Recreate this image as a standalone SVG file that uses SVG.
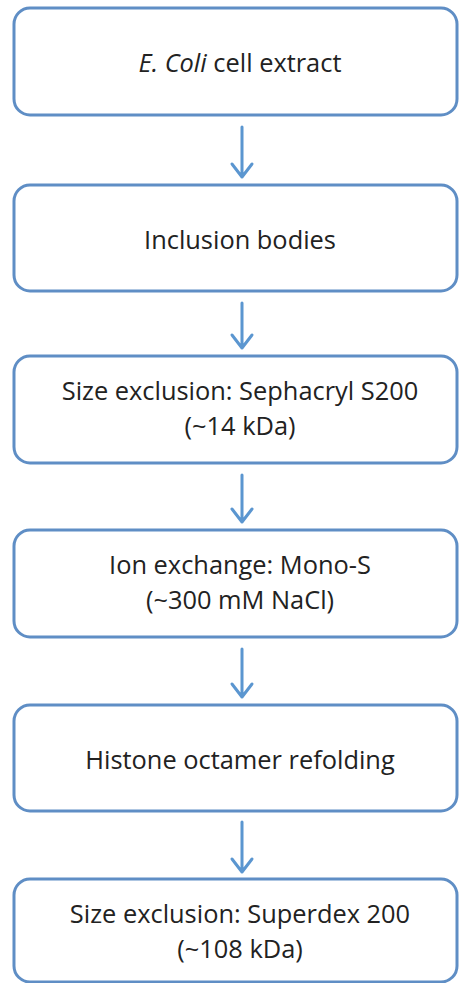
<svg xmlns="http://www.w3.org/2000/svg" width="459" height="983" viewBox="0 0 459 983">
  <style>
    .box { fill: #ffffff; stroke: #5f8ec5; stroke-width: 3; }
    .lbl { font-family: "Open Sans", "Liberation Sans", sans-serif; font-size: 25.4px; fill: #222222; text-anchor: middle; }
    .arrow { fill: none; stroke: #5b96d0; stroke-width: 3; stroke-linecap: round; stroke-linejoin: round; }
  </style>
  <rect width="459" height="983" fill="#ffffff"/>

  <g id="connectors">
    <path class="arrow" d="M242 127 V177 M232 164 L242 177 L252 164"/>
    <path class="arrow" d="M242 303 V348 M232 335 L242 348 L252 335"/>
    <path class="arrow" d="M242 475 V522 M232 509 L242 522 L252 509"/>
    <path class="arrow" d="M242 649 V697 M232 684 L242 697 L252 684"/>
    <path class="arrow" d="M242 822 V872 M232 859 L242 872 L252 859"/>
  </g>

  <g id="cell-extract">
    <rect class="box" x="14" y="8" width="443" height="107" rx="16"/>
    <text class="lbl" x="240" y="72"><tspan font-style="italic">E. Coli</tspan> cell extract</text>
  </g>

  <g id="inclusion-bodies">
    <rect class="box" x="14" y="185" width="443" height="106" rx="16"/>
    <text class="lbl" x="240" y="249">Inclusion bodies</text>
  </g>

  <g id="sephacryl">
    <rect class="box" x="14" y="356" width="443" height="107" rx="16"/>
    <text class="lbl" x="240" y="400">Size exclusion: Sephacryl S200</text>
    <text class="lbl" x="240" y="435">(~14 kDa)</text>
  </g>

  <g id="mono-s">
    <rect class="box" x="14" y="530" width="443" height="107" rx="16"/>
    <text class="lbl" x="240" y="574">Ion exchange: Mono-S</text>
    <text class="lbl" x="240" y="609">(~300 mM NaCl)</text>
  </g>

  <g id="refolding">
    <rect class="box" x="14" y="705" width="443" height="106" rx="16"/>
    <text class="lbl" x="240" y="769">Histone octamer refolding</text>
  </g>

  <g id="superdex">
    <rect class="box" x="14" y="879" width="443" height="103" rx="16"/>
    <text class="lbl" x="240" y="923">Size exclusion: Superdex 200</text>
    <text class="lbl" x="240" y="958">(~108 kDa)</text>
  </g>
</svg>
